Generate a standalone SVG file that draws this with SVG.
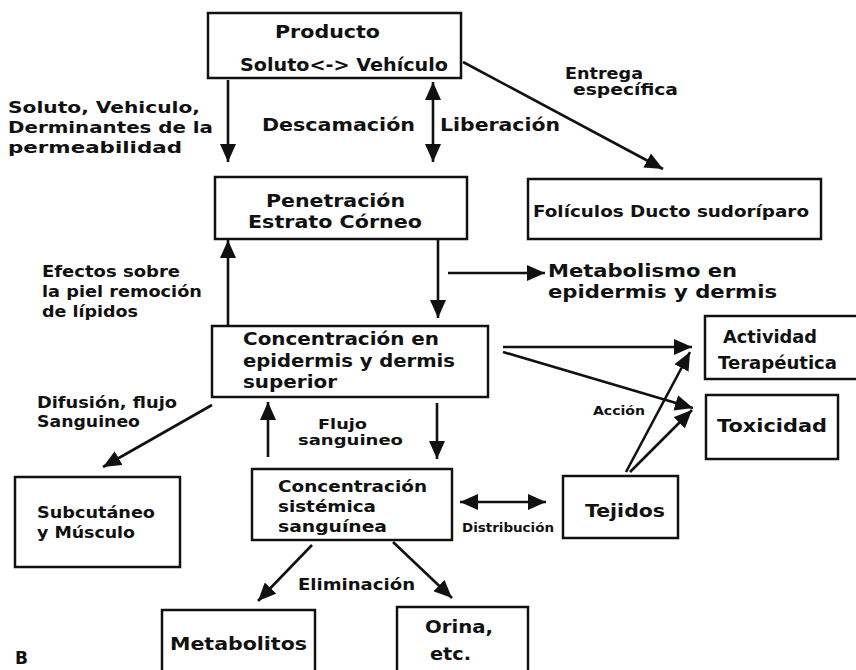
<svg xmlns="http://www.w3.org/2000/svg" width="856" height="670" viewBox="0 0 856 670">
<style>
text{font-family:"DejaVu Sans","Liberation Sans",sans-serif;font-weight:bold;fill:#111;}
.b{font-size:18px;}
.m{font-size:15px;}
.f{font-size:14px;}
.s{font-size:12px;}
rect{fill:#fff;stroke:#111;stroke-width:2.5;}
.c path,.c line{stroke:#111;stroke-width:2.6;fill:none;}
</style>
<defs>
<marker id="ah" markerUnits="userSpaceOnUse" markerWidth="20" markerHeight="16" viewBox="0 0 20 16" refX="18" refY="8" orient="auto-start-reverse">
<path d="M0,0 L18,8 L0,16 z" fill="#111"/>
</marker>
</defs>
<rect width="856" height="670" style="fill:#fff;stroke:none"/>

<g id="producto"><rect x="208" y="13" width="253" height="65"/>
<text class="b" x="275" y="38" textLength="105" lengthAdjust="spacingAndGlyphs">Producto</text>
<text class="b" x="240" y="71" textLength="208" lengthAdjust="spacingAndGlyphs">Soluto&lt;-&gt; Vehículo</text></g>

<g id="foliculos"><rect x="528" y="179" width="293" height="60"/>
<text class="m" x="533" y="217" textLength="276" lengthAdjust="spacingAndGlyphs">Folículos Ducto sudoríparo</text></g>

<g id="penetracion"><rect x="215" y="177" width="252" height="62"/>
<text class="b" x="266" y="207" textLength="139" lengthAdjust="spacingAndGlyphs">Penetración</text>
<text class="b" x="248" y="228" textLength="174" lengthAdjust="spacingAndGlyphs">Estrato Córneo</text></g>

<g id="conc-epidermis"><rect x="212" y="326" width="276" height="71"/>
<text class="b" x="243" y="345" textLength="196" lengthAdjust="spacingAndGlyphs">Concentración en</text>
<text class="b" x="243" y="367" textLength="212" lengthAdjust="spacingAndGlyphs">epidermis y dermis</text>
<text class="b" x="243" y="388" textLength="94" lengthAdjust="spacingAndGlyphs">superior</text></g>

<g id="actividad"><rect x="705" y="316" width="153" height="63"/>
<text class="b" x="723" y="343" textLength="94" lengthAdjust="spacingAndGlyphs">Actividad</text>
<text class="b" x="718" y="369" textLength="119" lengthAdjust="spacingAndGlyphs">Terapéutica</text></g>

<g id="toxicidad"><rect x="706" y="395" width="132" height="64"/>
<text class="b" x="717" y="432" textLength="110" lengthAdjust="spacingAndGlyphs">Toxicidad</text></g>

<g id="subcutaneo"><rect x="15" y="477" width="165" height="90"/>
<text class="m" x="37" y="518" textLength="118" lengthAdjust="spacingAndGlyphs">Subcutáneo</text>
<text class="m" x="37" y="538" textLength="98" lengthAdjust="spacingAndGlyphs">y Músculo</text></g>

<g id="conc-sistemica"><rect x="252" y="469" width="200" height="71"/>
<text class="m" x="278" y="492" textLength="149" lengthAdjust="spacingAndGlyphs">Concentración</text>
<text class="m" x="278" y="512" textLength="98" lengthAdjust="spacingAndGlyphs">sistémica</text>
<text class="m" x="278" y="532" textLength="109" lengthAdjust="spacingAndGlyphs">sanguínea</text></g>

<g id="tejidos"><rect x="563" y="476" width="115" height="62"/>
<text class="b" x="585" y="517" textLength="80" lengthAdjust="spacingAndGlyphs">Tejidos</text></g>

<g id="metabolitos"><rect x="162" y="610" width="153" height="70"/>
<text class="b" x="170" y="650" textLength="137" lengthAdjust="spacingAndGlyphs">Metabolitos</text></g>

<g id="orina"><rect x="397" y="607" width="131" height="73"/>
<text class="b" x="425" y="633" textLength="68" lengthAdjust="spacingAndGlyphs">Orina,</text>
<text class="b" x="430" y="660" textLength="41" lengthAdjust="spacingAndGlyphs">etc.</text></g>

<g id="connectors" class="c">
<line x1="228" y1="80" x2="228" y2="162" marker-end="url(#ah)"/>
<line x1="433" y1="82" x2="433" y2="162" marker-start="url(#ah)" marker-end="url(#ah)"/>
<line x1="463" y1="62" x2="663" y2="169" marker-end="url(#ah)"/>
<line x1="228" y1="326" x2="228" y2="240" marker-end="url(#ah)"/>
<line x1="438" y1="239" x2="438" y2="318" marker-end="url(#ah)"/>
<line x1="448" y1="273" x2="545" y2="273" marker-end="url(#ah)"/>
<line x1="503" y1="347" x2="692" y2="347" marker-end="url(#ah)"/>
<line x1="503" y1="352" x2="693" y2="408" marker-end="url(#ah)"/>
<line x1="212" y1="405" x2="103" y2="467" marker-end="url(#ah)"/>
<line x1="268" y1="457" x2="268" y2="402" marker-end="url(#ah)"/>
<line x1="437" y1="403" x2="437" y2="459" marker-end="url(#ah)"/>
<line x1="460" y1="502" x2="546" y2="502" marker-start="url(#ah)" marker-end="url(#ah)"/>
<line x1="626" y1="472" x2="690" y2="352" marker-end="url(#ah)"/>
<line x1="630" y1="472" x2="692" y2="410" marker-end="url(#ah)"/>
<line x1="312" y1="545" x2="258" y2="601" marker-end="url(#ah)"/>
<line x1="393" y1="542" x2="452" y2="598" marker-end="url(#ah)"/>
</g>

<g id="labels">
<text class="m" x="8" y="113" textLength="192" lengthAdjust="spacingAndGlyphs">Soluto, Vehiculo,</text>
<text class="m" x="8" y="133" textLength="205" lengthAdjust="spacingAndGlyphs">Derminantes de la</text>
<text class="m" x="8" y="153" textLength="174" lengthAdjust="spacingAndGlyphs">permeabilidad</text>
<text class="b" x="262" y="131" textLength="153" lengthAdjust="spacingAndGlyphs">Descamación</text>
<text class="b" x="440" y="131" textLength="120" lengthAdjust="spacingAndGlyphs">Liberación</text>
<text class="m" x="565" y="79" textLength="78" lengthAdjust="spacingAndGlyphs">Entrega</text>
<text class="m" x="573" y="95" textLength="105" lengthAdjust="spacingAndGlyphs">específica</text>
<text class="b" x="548" y="277" textLength="189" lengthAdjust="spacingAndGlyphs">Metabolismo en</text>
<text class="b" x="548" y="298" textLength="229" lengthAdjust="spacingAndGlyphs">epidermis y dermis</text>
<text class="m" x="42" y="277" textLength="138" lengthAdjust="spacingAndGlyphs">Efectos sobre</text>
<text class="m" x="42" y="297" textLength="160" lengthAdjust="spacingAndGlyphs">la piel remoción</text>
<text class="m" x="42" y="317" textLength="96" lengthAdjust="spacingAndGlyphs">de lípidos</text>
<text class="m" x="37" y="408" textLength="140" lengthAdjust="spacingAndGlyphs">Difusión, flujo</text>
<text class="m" x="37" y="427" textLength="103" lengthAdjust="spacingAndGlyphs">Sanguineo</text>
<text class="f" x="318" y="429" textLength="49" lengthAdjust="spacingAndGlyphs">Flujo</text>
<text class="f" x="298" y="445" textLength="105" lengthAdjust="spacingAndGlyphs">sanguineo</text>
<text class="s" x="462" y="532" textLength="92" lengthAdjust="spacingAndGlyphs">Distribución</text>
<text class="s" x="593" y="415" textLength="52" lengthAdjust="spacingAndGlyphs">Acción</text>
<text class="m" x="298" y="590" textLength="117" lengthAdjust="spacingAndGlyphs">Eliminación</text>
<text style="font-size:17px" x="15" y="664">B</text>
</g>
</svg>
